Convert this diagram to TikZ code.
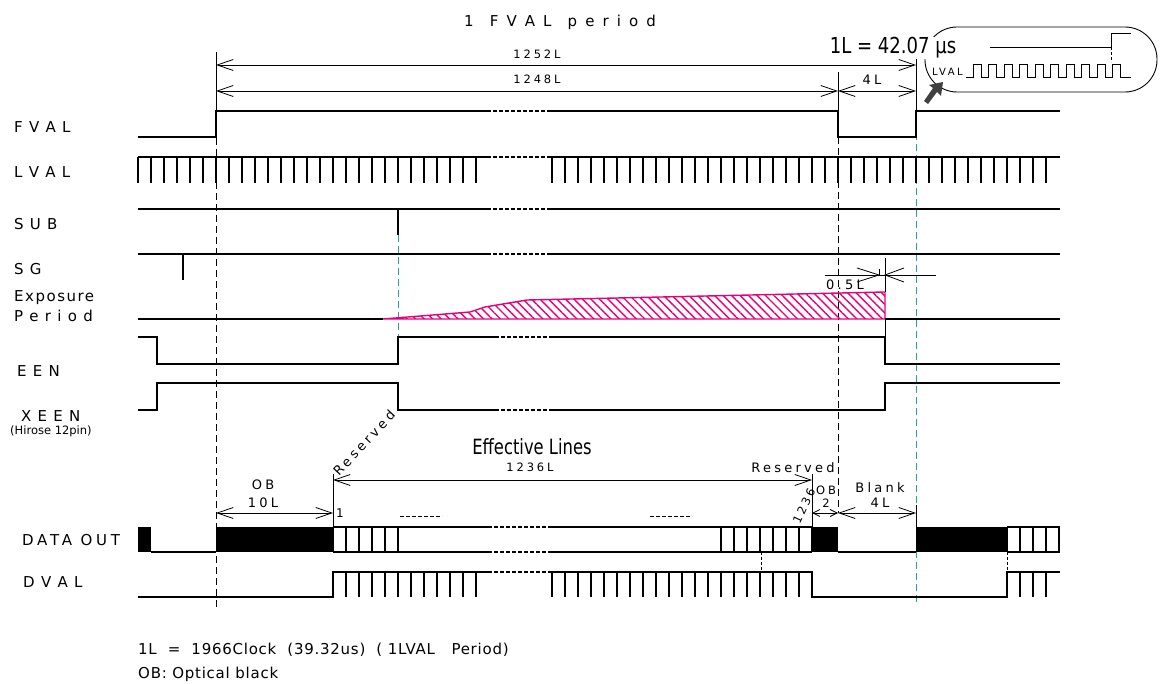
\documentclass[tikz,border=0pt]{standalone}
\usepackage{fontspec}
\setmainfont{DejaVu Sans}
\newfontfamily\wfont[LetterSpace=10]{DejaVu Sans}
\newfontfamily\wwfont[LetterSpace=25]{DejaVu Sans}
\newfontfamily\tfont[LetterSpace=22]{DejaVu Sans}
\newfontfamily\nfont[LetterSpace=5]{DejaVu Sans}
\usetikzlibrary{arrows.meta,patterns.meta}
\definecolor{pinkx}{RGB}{230,0,126}
\definecolor{tealx}{RGB}{40,160,160}
\begin{document}
\begin{tikzpicture}[x=1pt,y=-1pt,
 sig/.style={line width=2pt},
 gap/.style={line width=1.6pt, dash pattern=on 4pt off 2pt},
 thin/.style={line width=0.8pt},
 dimarr/.style={line width=0.8pt, {Straight Barb[length=16pt,width=11pt,line width=0.8pt]}-{Straight Barb[length=16pt,width=11pt,line width=0.8pt]}},
 sdim/.style={line width=0.8pt, {Straight Barb[length=7pt,width=7pt,line width=0.8pt]}-{Straight Barb[length=7pt,width=7pt,line width=0.8pt]}},
 vdash/.style={line width=0.9pt, dash pattern=on 7pt off 4pt},
 lab/.style={anchor=west, font=\wfont\fontsize{15}{17}\selectfont, inner sep=0pt},
 tiny/.style={font=\wwfont\fontsize{11.5}{12}\selectfont, inner sep=0pt},
 small/.style={font=\wwfont\fontsize{13}{14}\selectfont, inner sep=0pt},
]
\useasboundingbox (0,0) rectangle (1160,684);

% ---------- dashed verticals ----------
\draw[vdash] (216,105) -- (216,607);
\draw[vdash] (838,137) -- (838,513);
\draw[vdash,tealx] (398,235) -- (398,338);
\draw[vdash,tealx] (916,111) -- (916,605);

% ---------- top dimensions ----------
\node[font=\tfont\fontsize{15}{17}\selectfont, inner sep=0pt] (title) at (560,22) {1 \ F V A L \ p e r i o d};
\draw[thin] (216,52) -- (216,105);
\draw[thin] (838,72) -- (838,111);
\draw[thin] (916,58) -- (916,111);
\draw[dimarr] (216,65) -- (916,65);
\draw[dimarr] (216,91) -- (838,91);
\draw[dimarr] (838,91) -- (916,91);
\node[tiny] (t1252) at (537,54) {1252L};
\node[tiny] (t1248) at (537,79) {1248L};
\node[small] (t4a) at (872,80) {4L};

% ---------- callout ----------
\draw[line width=0.9pt, rounded corners=32pt] (925,27) rectangle (1157,92);
\node[fill=white, inner sep=1pt, xscale=0.82, font=\fontsize{22}{24}\selectfont] (oneL) at (893,48) {1L = 42.07 µs};
\draw[line width=0.9pt] (990,47) -- (1111,47) -- (1111,33) -- (1131,33);
\draw[line width=0.6pt, dash pattern=on 3pt off 2pt] (1111,47) -- (1111,62);
\node[tiny, anchor=west, font=\wwfont\fontsize{10}{11}\selectfont] (lvalc) at (932,72) {LVAL};
\draw[line width=0.9pt] (966,77) -- (973,77)
  \foreach \i in {0,...,9} { -- ({973+15.5*\i},77) -- ({973+15.5*\i},64) -- ({981+15.5*\i},64) -- ({981+15.5*\i},77) } -- (1131,77);
\fill[darkgray] (924,101) -- (933,88) -- (929,85) -- (943,82) -- (941,96) -- (937,92) -- (928,104) -- cycle;

% ---------- labels ----------
\node[lab] (lFVAL) at (14,127) {F V A L};
\node[lab] (lLVAL) at (14,172) {L V A L};
\node[lab] (lSUB) at (14,224) {S U B};
\node[lab] (lSG) at (14,269) {S G};
\node[lab] (lExp) at (14,298) {Exposure};
\node[lab] (lPer) at (14,316) {P e r i o d};
\node[lab] (lEEN) at (17,371) {E E N};
\node[lab] (lXEEN) at (21,416) {X E E N};
\node[anchor=west, inner sep=0pt, font=\fontsize{11.5}{12}\selectfont] (lHir) at (10,431) {(Hirose 12pin)};
\node[lab, font=\wwfont\fontsize{15}{17}\selectfont] (lDATA) at (22,540) {DATA OUT};
\node[lab] (lDVAL) at (23,582) {D V A L};

% ---------- FVAL ----------
\draw[sig] (138,137) -- (216,137) -- (216,111) -- (487,111);
\draw[gap] (487,111) -- (548,111);
\draw[sig] (548,111) -- (838,111) -- (838,137) -- (916,137) -- (916,111) -- (1060,111);

% ---------- LVAL ----------
\draw[sig] (138,157) -- (487,157);
\draw[gap] (487,157) -- (548,157);
\draw[sig] (548,157) -- (1060,157);
\foreach \x in {138,151,...,476} \draw[sig] (\x,157) -- (\x,183);
\foreach \x in {552,565,...,1047} \draw[sig] (\x,157) -- (\x,183);

% ---------- SUB ----------
\draw[sig] (138,209) -- (487,209);
\draw[gap] (487,209) -- (551,209);
\draw[sig] (551,209) -- (1060,209);
\draw[sig] (398,209) -- (398,235);

% ---------- SG ----------
\draw[sig] (138,254) -- (487,254);
\draw[gap] (487,254) -- (551,254);
\draw[sig] (551,254) -- (1060,254);
\draw[sig] (183,254) -- (183,280);

% ---------- Exposure ----------
\draw[pinkx, line width=1.4pt, pattern={Lines[angle=-45,distance=6pt,line width=1.4pt]}, pattern color=pinkx]
  (383,319) -- (470,312) -- (485,307) -- (527,300) -- (885,292) -- (885,319) -- cycle;
\draw[sig] (138,319) -- (383,319);
\draw[sig] (885,319) -- (1060,319);
\draw[thin] (885,258) -- (885,292);
\draw[thin] (885,319) -- (885,337);
% 0.5L
\draw[thin] (825,275) -- (936,275);
\draw[thin] (857,268) -- (879,275) -- (857,282);
\draw[thin] (879,269) -- (879,275);
\draw[thin] (904,268) -- (885,275) -- (904,282);
\node[small] (t05) at (845,285) {0.5L};

% ---------- EEN ----------
\draw[sig] (138,337) -- (157,337) -- (157,364) -- (398,364) -- (398,337) -- (495,337);
\draw[gap] (495,337) -- (553,337);
\draw[sig] (553,337) -- (885,337) -- (885,364) -- (1060,364);

% ---------- XEEN ----------
\draw[sig] (138,410) -- (157,410) -- (157,383) -- (398,383) -- (398,410) -- (495,410);
\draw[gap] (495,410) -- (553,410);
\draw[sig] (553,410) -- (885,410) -- (885,383) -- (1060,383);

% ---------- data dimensions ----------
\node[small, rotate=47] (res1) at (364,443) {Reserved};
\node[xscale=0.78, inner sep=0pt, font=\fontsize{21}{23}\selectfont] (eff) at (532,447) {Effective Lines};
\node[tiny] (t1236) at (530,467) {1236L};
\node[small] (res2) at (793,468) {Reserved};
\node[tiny, rotate=65] (r1236) at (804,506) {1236};
\node[tiny] (ob2a) at (826,490) {OB};
\node[tiny] (ob2b) at (826,503) {2};
\node[small] (blank) at (880,488) {Blank};
\node[small] (t4b) at (880,503) {4L};
\node[small] (ob1) at (263,485) {OB};
\node[small] (t10L) at (263,503) {10L};
\node[font=\fontsize{12}{13}\selectfont, inner sep=0pt, anchor=west] (one) at (336,513) {1};

\draw[thin] (333,474) -- (333,527);
\draw[thin] (812,474) -- (812,527);
\draw[thin] (916,505) -- (916,527);
\draw[dimarr] (333,480) -- (812,480);
\draw[dimarr] (216,513) -- (333,513);
\draw[sdim] (812,513) -- (838,513);
\draw[dimarr] (838,513) -- (916,513);
\draw[line width=0.7pt, dash pattern=on 4pt off 2pt] (400,516) -- (442,516);
\draw[line width=0.7pt, dash pattern=on 4pt off 2pt] (650,516) -- (692,516);

% ---------- DATA OUT ----------
\fill (138,527) rectangle (151,552);
\draw[sig] (151,552) -- (216,552);
\fill (216,527) rectangle (333,552);
\draw[sig] (333,527) -- (488,527);
\draw[sig] (333,552) -- (488,552);
\draw[gap] (488,527) -- (552,527);
\draw[gap] (488,552) -- (552,552);
\draw[sig] (552,527) -- (812,527);
\draw[sig] (552,552) -- (812,552);
\foreach \x in {333,346,...,398} \draw[sig] (\x,527) -- (\x,552);
\foreach \x in {721,734,...,812} \draw[sig] (\x,527) -- (\x,552);
\fill (812,527) rectangle (838,552);
\draw[sig] (838,552) -- (916,552);
\fill (916,527) rectangle (1007,552);
\draw[sig] (1007,527) -- (1060,527);
\draw[sig] (1007,552) -- (1060,552);
\foreach \x in {1007,1020,1033,1046,1059} \draw[sig] (\x,527) -- (\x,552);
\draw[line width=0.6pt, dash pattern=on 3pt off 2pt] (761,552) -- (761,572);
\draw[line width=0.6pt, dash pattern=on 3pt off 2pt] (1007,552) -- (1007,572);

% ---------- DVAL ----------
\draw[sig] (138,597) -- (333,597) -- (333,572) -- (488,572);
\draw[gap] (488,572) -- (552,572);
\draw[sig] (552,572) -- (812,572) -- (812,597) -- (1007,597) -- (1007,572) -- (1060,572);
\foreach \x in {346,359,...,476} \draw[sig] (\x,572) -- (\x,597);
\foreach \x in {552,565,...,799} \draw[sig] (\x,572) -- (\x,597);
\foreach \x in {1020,1033,1046} \draw[sig] (\x,572) -- (\x,597);

% ---------- notes ----------
\node[anchor=west, inner sep=0pt, font=\nfont\fontsize{15}{17}\selectfont] (note1) at (138,650) {1L \ = \ 1966Clock \ (39.32us) \ ( 1LVAL \ \ Period)};
\node[anchor=west, inner sep=0pt, font=\nfont\fontsize{15}{17}\selectfont] (note2) at (138,674) {OB: Optical black};
\end{tikzpicture}
\end{document}
